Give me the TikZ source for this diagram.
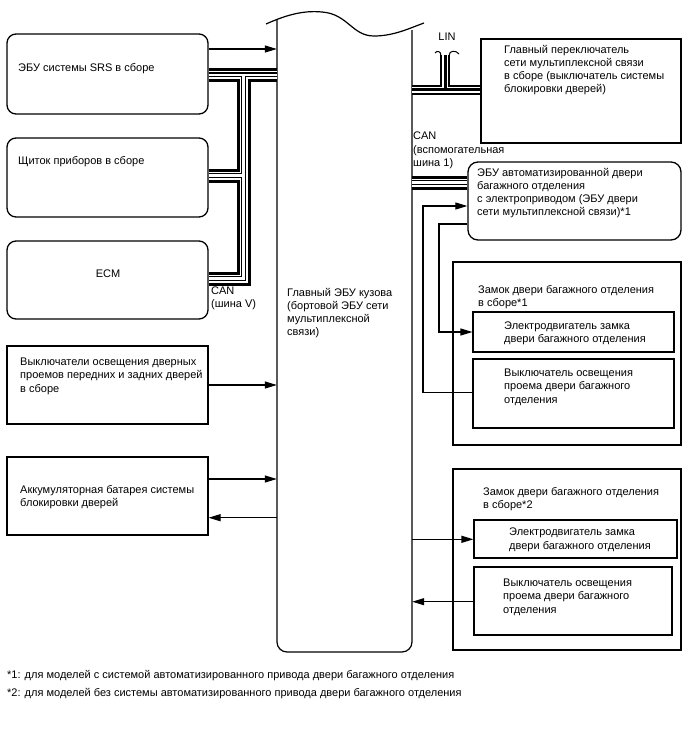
\documentclass[tikz,border=0pt]{standalone}
\usepackage{fontspec}
\setmainfont{Liberation Sans}
\usetikzlibrary{arrows.meta,fit}
\begin{document}
\begin{tikzpicture}[x=1pt,y=-1pt,
  box/.style={draw, line width=1.1pt, inner sep=0pt},
  rbox/.style={box, rounded corners=9pt, line width=1.3pt},
  area/.style={inner sep=0pt},
  txt/.style={inner sep=0pt, anchor=north west, align=left, font=\fontsize{11}{13.2}\selectfont},
  arr/.style={line width=1.1pt, -{Triangle[length=12pt,width=7pt]}},
  wire/.style={line width=1.1pt},
  hook/.style={line width=1pt}]
\useasboundingbox (0,0) rectangle (688,755);

% ---- central body ECU
\node[area, fit={(277,20)(412,652)}] (ecu) {};
\draw[line width=1.2pt, rounded corners=10pt] (277,20) -- (277,652) -- (412,652) -- (412,30);
\draw[line width=1.2pt] (266,24) .. controls (284,16) and (302,10) .. (322,12)
  .. controls (348,14) and (352,36) .. (374,36) .. controls (394,36) and (410,28) .. (424,23);
\node[txt] (ecut) at (287,288) {Главный ЭБУ кузова\\(бортовой ЭБУ сети\\мультиплексной\\связи)};

% ---- left boxes
\node[rbox, fit={(7,34)(208,114)}] (srs) {};
\node[txt] (srst) at (18,63) {ЭБУ системы SRS в сборе};
\node[rbox, fit={(7,138)(208,217)}] (comb) {};
\node[txt] (combt) at (18,156.5) {Щиток приборов в сборе};
\node[rbox, fit={(7,241)(208,319)}] (ecm) {};
\node[inner sep=0pt, font=\fontsize{11}{13.2}\selectfont] (ecmt) at (108,274) {ECM};
\node[txt] (canv) at (211,286.5) {CAN\\(шина V)};
\node[box, fit={(7,346)(208,424)}] (csw) {};
\node[txt] (cswt) at (20,358) {Выключатели освещения дверных\\проемов передних и задних дверей\\в сборе};
\node[box, fit={(7,457)(208,535)}] (batt) {};
\node[txt] (battt) at (20,485) {Аккумуляторная батарея системы\\блокировки дверей};

% ---- right boxes
\node[box, fit={(481,39)(681,143)}] (msw) {};
\node[txt] (mswt) at (504,45) {Главный переключатель\\сети мультиплексной связи\\в сборе (выключатель системы\\блокировки дверей)};
\node[inner sep=0pt, font=\fontsize{11}{13.2}\selectfont] (lin) at (447,37) {LIN};
\node[txt] (cana) at (413,132) {CAN\\(вспомогательная\\шина 1)};
\node[rbox, rounded corners=10pt, fit={(468,162)(681,240)}] (decu) {};
\node[txt] (decut) at (477,168) {ЭБУ автоматизированной двери\\багажного отделения\\с электроприводом (ЭБУ двери\\сети мультиплексной связи)*1};

\node[box, fit={(453,262)(681,445)}] (lockA) {};
\node[txt] (lockAt) at (478,285.5) {Замок двери багажного отделения\\в сборе*1};
\node[box, fit={(473,312)(674,352)}] (motA) {};
\node[txt] (motAt) at (504,321.5) {Электродвигатель замка\\двери багажного отделения};
\node[box, fit={(473,359)(674,428)}] (swA) {};
\node[txt] (swAt) at (504,369) {Выключатель освещения\\проема двери багажного\\отделения};

\node[box, fit={(453,469)(681,650)}] (lockB) {};
\node[txt] (lockBt) at (483,487) {Замок двери багажного отделения\\в сборе*2};
\node[box, fit={(474,520)(677,558)}] (motB) {};
\node[txt] (motBt) at (509,528) {Электродвигатель замка\\двери багажного отделения};
\node[box, fit={(474,567)(672,635)}] (swB) {};
\node[txt] (swBt) at (503,579) {Выключатель освещения\\проема двери багажного\\отделения};

% ---- footnotes
\node[txt] (fn1) at (7,670) {*1: для моделей с системой автоматизированного привода двери багажного отделения};
\node[txt] (fn2) at (7,688) {*2: для моделей без системы автоматизированного привода двери багажного отделения};

% ---- CAN V bus
\coordinate (vx) at (243.7,0);
\foreach \w/\c in {14/black,8/white,5/black,2.5/white}{
  \draw[line width=\w pt, \c] (srs.east |- 0,74.8) -- (ecu.west |- 0,74.8)
     (vx |- 0,74.8) -- (vx |- 0,278.5) -- (ecm.east |- 0,278.5)
     (comb.east |- 0,175.5) -- (vx |- 0,175.5);
  \draw[line width=\w pt, \c] (ecu.east |- 0,182.5) -- (decu.west |- 0,182.5);
}
% ---- LIN
\coordinate (lx) at (445,0);
\foreach \w/\c in {10/black,6/white,3/black}{
  \draw[line width=\w pt, \c] (ecu.east |- 0,89.5) -- (msw.west |- 0,89.5)
     (lx |- 0,89.5) -- (lx |- 0,55);
}
\draw[hook] (441,56) .. controls (441,51) and (437,50) .. (435,53);
\draw[hook] (449,56) .. controls (449,50) and (456,50) .. (459,54);

% ---- arrows left
\draw[arr] (srs.east |- 0,49) -- (ecu.west |- 0,49);
\draw[arr] (csw.east |- 0,385) -- (ecu.west |- 0,385);
\draw[arr] (batt.east |- 0,479) -- (ecu.west |- 0,479);
\draw[arr] (ecu.west |- 0,517.7) -- (batt.east |- 0,517.7);

% ---- arrows right
\coordinate (ax) at (423,0);
\coordinate (bx) at (439,0);
\draw[arr] (swA.west |- 0,392.7) -- (ax |- 0,392.7) -- (ax |- 0,206) -- (decu.west |- 0,206);
\draw[arr] (decu.west |- 0,224) -- (bx |- 0,224) -- (bx |- 0,332) -- (motA.west |- 0,332);
\draw[arr] (ecu.east |- 0,539.3) -- (motB.west |- 0,539.3);
\draw[arr] (swB.west |- 0,601.7) -- (ecu.east |- 0,601.7);
\end{tikzpicture}
\end{document}
